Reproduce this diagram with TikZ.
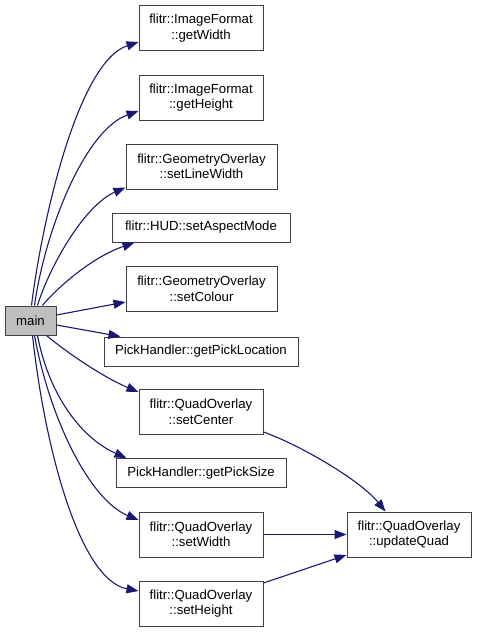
\documentclass[tikz,border=0pt]{standalone}
\usepackage{fontspec}
\setmainfont{Liberation Sans}
\usetikzlibrary{arrows.meta,calc}
\definecolor{edgec}{HTML}{191970}
\definecolor{boxc}{HTML}{404040}
\definecolor{mainfill}{HTML}{BFBFBF}
\begin{document}
\begin{tikzpicture}[x=1pt,y=-1pt,
  fn/.style={draw=boxc, line width=1pt, rectangle, inner sep=0pt, align=center,
    font=\fontsize{13.2}{15.5}\selectfont, fill=white},
  two/.style={fn, minimum height=45pt},
  one/.style={fn, minimum height=29pt},
  call/.style={draw=edgec, line width=1.1pt, -{Triangle[length=12pt,width=9pt]}}]
\useasboundingbox (0,0) rectangle (477,632);
% nodes
\node[one, minimum width=51pt, fill=mainfill] (main) at (30.5,320.5) {main};
\node[two, minimum width=124pt] (gw) at (201,28) {flitr::ImageFormat\\::getWidth};
\node[two, minimum width=124pt] (gh) at (201,97.5) {flitr::ImageFormat\\::getHeight};
\node[two, minimum width=151pt] (slw) at (201.5,166.5) {flitr::GeometryOverlay\\::setLineWidth};
\node[one, minimum width=178pt] (asp) at (201,227.5) {flitr::HUD::setAspectMode};
\node[two, minimum width=151pt] (col) at (201.5,289) {flitr::GeometryOverlay\\::setColour};
\node[one, minimum width=194pt] (gpl) at (201,351.5) {PickHandler::getPickLocation};
\node[two, minimum width=124pt] (sc) at (201,412) {flitr::QuadOverlay\\::setCenter};
\node[one, minimum width=170pt] (gps) at (201,473) {PickHandler::getPickSize};
\node[two, minimum width=124pt] (sw) at (201,534.5) {flitr::QuadOverlay\\::setWidth};
\node[two, minimum width=124pt] (sh) at (201,603.5) {flitr::QuadOverlay\\::setHeight};
\node[two, minimum width=124pt] (uq) at (409,534.5) {flitr::QuadOverlay\\::updateQuad};
% edges from main
\draw[call] ($(main.north west)+(27,0)$) .. controls (42,220) and (78,62) .. ($(gw.west)+(0,14)$);
\draw[call] ($(main.north west)+(30,0)$) .. controls (45,230) and (85,130) .. ($(gh.west)+(0,13.5)$);
\draw[call] ($(main.north west)+(33,0)$) .. controls (50,265) and (85,205) .. ($(slw.south west)+(0,-2)$);
\draw[call] ($(main.north west)+(38,0)$) .. controls (55,290) and (90,258) .. ($(asp.south west)+(23,0)$);
\draw[call] ($(main.east)+(0,-5.5)$) -- ($(col.west)+(0,13)$);
\draw[call] ($(main.east)+(0,4.5)$) -- ($(gpl.north west)+(17,0)$);
\draw[call] ($(main.south west)+(42,0)$) .. controls (70,355) and (105,378) .. ($(sc.west)+(0,-20)$);
\draw[call] ($(main.south west)+(33,0)$) .. controls (50,400) and (85,440) .. ($(gps.north west)+(11,0)$);
\draw[call] ($(main.south west)+(30,0)$) .. controls (50,420) and (90,500) .. ($(sw.west)+(0,-14.5)$);
\draw[call] ($(main.south west)+(28,0)$) .. controls (45,450) and (80,580) .. ($(sh.west)+(0,-12.5)$);
% edges to updateQuad
\draw[call] ($(sc.east)+(0,20)$) .. controls (300,445) and (360,480) .. ($(uq.north west)+(39,0)$);
\draw[call] (sw.east) -- (uq.west);
\draw[call] ($(sh.east)+(0,-20.5)$) -- ($(uq.west)+(0,20.5)$);
\end{tikzpicture}
\end{document}
